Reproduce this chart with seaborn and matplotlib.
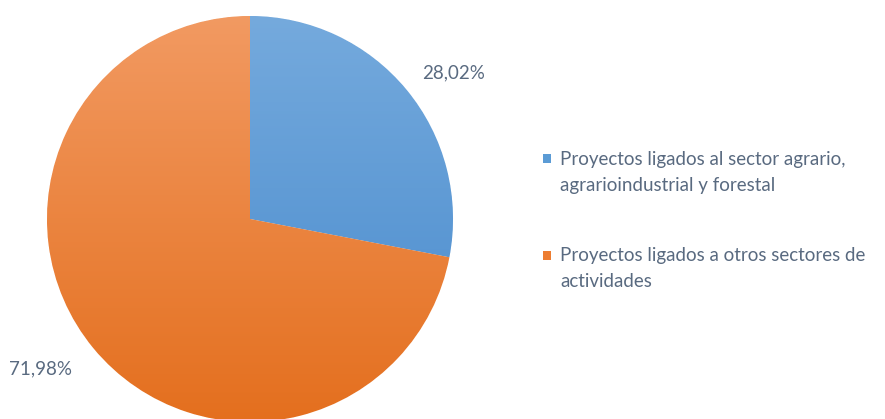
import numpy as np
import matplotlib.pyplot as plt
from matplotlib.colors import LinearSegmentedColormap
from matplotlib.patches import Rectangle
import seaborn as sns

sns.set_theme(style="white")
plt.rcParams["font.family"] = ["Lato", "DejaVu Sans"]

# Data
categories = [
    "Proyectos ligados al sector agrario,\nagrarioindustrial y forestal",
    "Proyectos ligados a otros sectores de\nactividades",
]
shares = [28.02, 71.98]
value_labels = ["28,02%", "71,98%"]

# Office-like palette (base colour, lighter top, darker bottom)
base_colors = ["#5b9bd5", "#ed7d31"]
grad_top = ["#75aadd", "#f29a62"]
grad_bottom = ["#4689cc", "#e46f1e"]
text_color = "#596a80"

W, H, DPI = 885, 419, 100
fig = plt.figure(figsize=(W / DPI, H / DPI), dpi=DPI)
fig.patch.set_facecolor("white")

# pie: centre (250, 219) px, radius 203 px
cx, cy, r = 250, 219, 203
ax = fig.add_axes([(cx - r) / W, (H - cy - r) / H, 2 * r / W, 2 * r / H])

wedges, _ = ax.pie(shares, colors=base_colors, startangle=90, counterclock=False,
                   radius=1, wedgeprops=dict(edgecolor="white", linewidth=0.6))
ax.set_aspect("equal")
ax.axis("off")

# vertical gradient inside each wedge
grad = np.linspace(0, 1, 256).reshape(-1, 1)
for w, top, bot in zip(wedges, grad_top, grad_bottom):
    cmap = LinearSegmentedColormap.from_list("g", [top, bot])
    im = ax.imshow(grad, cmap=cmap, extent=[-1, 1, -1, 1], origin="upper",
                   aspect="auto", zorder=w.get_zorder() + 0.1)
    im.set_clip_path(w)
ax.set_xlim(-1, 1)
ax.set_ylim(-1, 1)

# percentage labels
ax.text(1.005, 0.719, value_labels[0], ha="center", va="center",
        fontsize=13.5, color=text_color, clip_on=False)
ax.text(-1.034, -0.739, value_labels[1], ha="center", va="center",
        fontsize=13.5, color=text_color, clip_on=False)

# legend: square marker aligned with the first line of each entry
entry_top = [159, 255]   # px of first text line
line_step = 26
for cat, color, y0 in zip(categories, base_colors, entry_top):
    fig.patches.append(Rectangle((543 / W, 1 - (y0 + 4.5) / H), 8 / W, 9 / H,
                                 transform=fig.transFigure, facecolor=color,
                                 edgecolor="none"))
    for i, line in enumerate(cat.split("\n")):
        fig.text(560 / W, 1 - (y0 + i * line_step) / H, line, ha="left",
                 va="center", fontsize=13.5, color=text_color)

fig.savefig("out.png", dpi=DPI, facecolor="white")
